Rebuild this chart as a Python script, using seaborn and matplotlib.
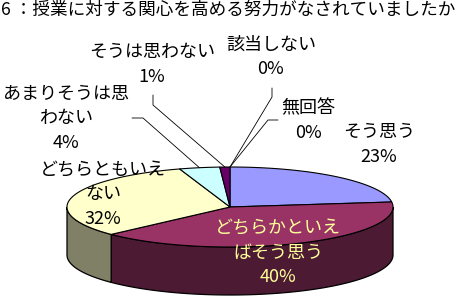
import numpy as np
import matplotlib
matplotlib.use("Agg")
import matplotlib.pyplot as plt
import seaborn as sns

# --- data -------------------------------------------------------------
title = "6 ：授業に対する関心を高める努力がなされていましたか"
categories = ["そう思う", "どちらかといえ\nばそう思う", "どちらともいえ\nない",
              "あまりそうは思\nわない", "そうは思わない", "該当しない", "無回答"]
values = [23, 40, 32, 4, 1, 0, 0]
top_colors = ["#9999FF", "#993366", "#FFFFCC", "#CCFFFF", "#660066", "#FF8080", "#0066CC"]
side_colors = ["#4C4C80", "#4C1A33", "#808066", "#668080", "#330033", "#804040", "#003366"]
text_colors = ["black", "#FFFF99", "black", "black", "black", "black", "black"]

# --- style ------------------------------------------------------------
sns.set_theme(style="white")
plt.rcParams["font.family"] = ["Noto Sans CJK JP", "DejaVu Sans"]
FS = 13
TITLE_FS = 12.7

W, H = 463, 297
fig = plt.figure(figsize=(W / 100, H / 100), dpi=100)
ax = fig.add_axes([0, 0, 1, 1])
ax.set_xlim(0, W)
ax.set_ylim(H, 0)
ax.axis("off")

# ellipse geometry of the tilted pie
cx, cy, rx, ry, depth = 230, 207, 163, 40, 48


def arc(t0, t1):
    n = max(2, int(abs(t1 - t0)) * 2 + 2)
    t = np.radians(np.linspace(t0, t1, n))
    return cx + rx * np.cos(t), cy - ry * np.sin(t)


def point(t):
    r = np.radians(t)
    return cx + rx * np.cos(r), cy - ry * np.sin(r)


total = sum(values)
bounds = 90 - 360 * np.concatenate([[0], np.cumsum(values)]) / total

# front walls (only the lower half of the ellipse is visible)
for i in range(len(values)):
    start, end = bounds[i], bounds[i + 1]
    lo, hi = max(end, -180), min(start, 0)
    if hi > lo:
        x, y = arc(hi, lo)
        xs = np.concatenate([x, x[::-1]])
        ys = np.concatenate([y, y[::-1] + depth])
        ax.fill(xs, ys, facecolor=side_colors[i], edgecolor="black",
                linewidth=0.9, joinstyle="miter")

# top faces
for i in range(len(values)):
    if values[i] == 0:
        continue
    start, end = bounds[i], bounds[i + 1]
    x, y = arc(start, end)
    ax.fill(np.concatenate([[cx], x]), np.concatenate([[cy], y]),
            facecolor=top_colors[i], edgecolor="black", linewidth=0.8,
            joinstyle="miter")

# labels: (center x, first line center y)
label_pos = {0: (379, 132), 1: (278, 228), 2: (103, 170), 3: (66, 94),
             4: (152, 52), 5: (271, 45), 6: (308, 108)}
line_step = 24.5
for i, (cat, v) in enumerate(zip(categories, values)):
    lx, ly = label_pos[i]
    lines = cat.split("\n") + [f"{v}%"]
    for k, line in enumerate(lines):
        ax.text(lx, ly + k * line_step, line, ha="center", va="center",
                fontsize=FS, color=text_colors[i])

# leader lines for the small slices
leaders = {4: [(153, 95), (153, 105)], 3: [(132, 118), (143, 118)],
           5: [(272, 88), (272, 97)], 6: [(278, 120), (268, 120)]}
for i, pts in leaders.items():
    mx, my = point((bounds[i] + bounds[i + 1]) / 2)
    xs = [p[0] for p in pts] + [mx]
    ys = [p[1] for p in pts] + [my]
    ax.plot(xs, ys, color="black", linewidth=0.6)

ax.text(1, 10, title, ha="left", va="center", fontsize=TITLE_FS, color="black")

fig.savefig("out.png", dpi=100)
